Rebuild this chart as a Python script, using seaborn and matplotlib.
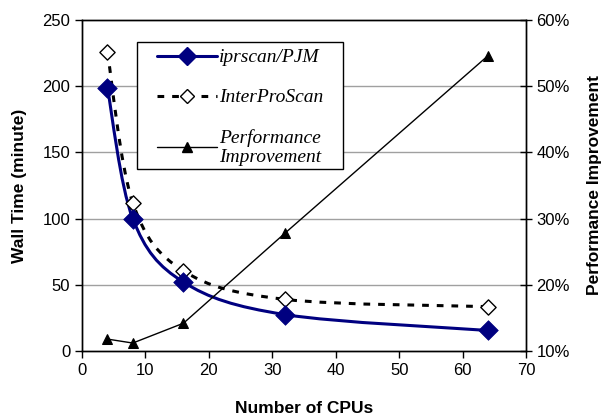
import numpy as np
import pandas as pd
import seaborn as sns
import matplotlib
matplotlib.use("Agg")
import matplotlib.pyplot as plt
from matplotlib.path import Path
from matplotlib.patches import PathPatch, Rectangle
from matplotlib.lines import Line2D
from matplotlib.ticker import FuncFormatter

cpus = [4, 8, 16, 32, 64]
iprscan_pjm = [199, 100, 52, 27.5, 15.5]
interproscan = [226, 112, 60.5, 39, 33.5]
perf_improvement = [11.8, 11.2, 14.2, 27.8, 54.6]

series_labels = ["iprscan/PJM", "InterProScan", "Performance\nImprovement"]

sns.set_style("white")
plt.rcParams["font.family"] = ["Liberation Sans", "DejaVu Sans"]
plt.rcParams["text.color"] = "black"
plt.rcParams["axes.labelcolor"] = "black"
plt.rcParams["xtick.color"] = "black"
plt.rcParams["ytick.color"] = "black"

fig = plt.figure(figsize=(6.07, 4.18), dpi=100)
ax = fig.add_axes([0.1351, 0.1603, 0.7315, 0.7919])
ax2 = ax.twinx()


def smooth_path(xs, ys):
    pts = np.column_stack([xs, ys]).astype(float)
    n = len(pts)
    verts = [pts[0]]
    codes = [Path.MOVETO]
    for i in range(n - 1):
        p0 = pts[i - 1] if i > 0 else pts[i]
        p1 = pts[i]
        p2 = pts[i + 1]
        p3 = pts[i + 2] if i + 2 < n else pts[i + 1]
        c1 = p1 + (p2 - p0) / 6.0
        c2 = p2 - (p3 - p1) / 6.0
        verts += [c1, c2, p2]
        codes += [Path.CURVE4] * 3
    return Path(verts, codes)


df = pd.DataFrame({"cpus": cpus, "pjm": iprscan_pjm, "ips": interproscan,
                   "perf": perf_improvement})

dash = (0, (2.2, 2.6))
ax.add_patch(PathPatch(smooth_path(cpus, interproscan), facecolor="none",
                       edgecolor="black", lw=2.2, linestyle=dash, zorder=3))
ax.add_patch(PathPatch(smooth_path(cpus, iprscan_pjm), facecolor="none",
                       edgecolor="#000080", lw=2.2, zorder=4))

sns.scatterplot(data=df, x="cpus", y="ips", ax=ax, marker="D", s=60,
                facecolor="white", edgecolor="black", linewidth=1.0, zorder=5)
sns.scatterplot(data=df, x="cpus", y="pjm", ax=ax, marker="D", s=100,
                color="#000080", edgecolor="#000080", linewidth=0.5, zorder=6)

sns.lineplot(data=df, x="cpus", y="perf", ax=ax2, color="black", lw=1.0,
             marker="^", markersize=7.5, markeredgecolor="black", zorder=5)

ax.set_xlim(0, 70)
ax.set_ylim(0, 250)
ax2.set_ylim(10, 60)
ax.set_xticks(range(0, 71, 10))
ax.set_yticks(range(0, 251, 50))
ax2.set_yticks(range(10, 61, 10))
ax2.yaxis.set_major_formatter(FuncFormatter(lambda v, p: f"{int(v)}%"))

for y in [50, 100, 150, 200]:
    ax.axhline(y, color="#a0a0a0", lw=1.0, zorder=1)

for a in (ax, ax2):
    for s in a.spines.values():
        s.set_color("black")
        s.set_linewidth(1.0)

ax.tick_params(axis="both", labelsize=12, direction="out", length=5,
               width=1, color="black", labelcolor="black",
               left=True, bottom=True)
ax2.tick_params(axis="y", labelsize=12, direction="inout", length=9,
                width=1, color="black", labelcolor="black", right=True,
                pad=3)

ax.set_xlabel("Number of CPUs", fontsize=12.5, fontweight="bold",
              labelpad=17, color="black")
ax.set_ylabel("Wall Time (minute)", fontsize=12.5, fontweight="bold",
              labelpad=11, color="black")
ax2.set_ylabel("Performance Improvement", fontsize=12.5, fontweight="bold",
               labelpad=12, color="black")

# legend box (frame) and legend content
ax2.add_patch(Rectangle((0.1239, 0.5498), 0.4639, 0.3837,
                        transform=ax2.transAxes, facecolor="white",
                        edgecolor="black", lw=1.0, zorder=10))

handles = [
    Line2D([], [], color="#000080", lw=2.2, marker="D", markersize=9,
           markerfacecolor="#000080"),
    Line2D([], [], color="black", lw=2.2, linestyle=dash,
           marker="D", markersize=7.5, markerfacecolor="white",
           markeredgecolor="black"),
    Line2D([], [], color="black", lw=1.0, marker="^", markersize=7.5),
]
leg = ax2.legend(handles, series_labels, loc="upper left",
                 bbox_to_anchor=(0.168, 0.913), borderaxespad=0,
                 frameon=False, handlelength=3.1, handletextpad=0.1,
                 labelspacing=1.15, borderpad=0.0,
                 prop={"family": ["Liberation Serif"], "style": "italic",
                       "size": 14})
leg.set_zorder(11)
for t in leg.get_texts():
    t.set_color("black")

fig.savefig("out.png", dpi=100)
